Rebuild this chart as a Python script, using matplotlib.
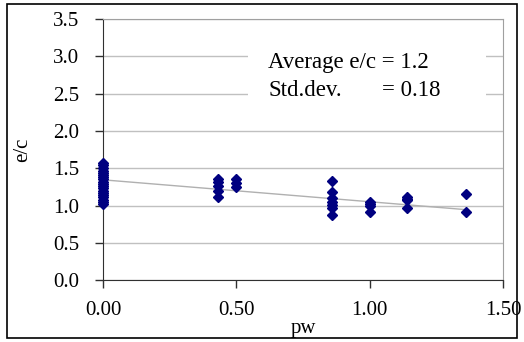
import numpy as np
import matplotlib
matplotlib.use("Agg")
import matplotlib.pyplot as plt
from matplotlib.patches import Rectangle

# pw groups and the e/c values read at each one
pw_groups = [0.00, 0.43, 0.50, 0.86, 1.00, 1.14, 1.36]
ec_groups = [
    [1.02, 1.05, 1.08, 1.11, 1.14, 1.17, 1.20, 1.23, 1.26, 1.29, 1.32,
     1.35, 1.38, 1.41, 1.44, 1.47, 1.50, 1.54, 1.57],
    [1.11, 1.20, 1.26, 1.31, 1.36],
    [1.25, 1.30, 1.36],
    [0.87, 0.97, 1.01, 1.05, 1.10, 1.18, 1.33],
    [0.92, 1.00, 1.02, 1.05],
    [0.97, 1.07, 1.09, 1.12],
    [0.92, 1.15],
]
# linear trend line
trend_intercept = 1.345
trend_slope = -0.294
avg_text = "Average e/c = 1.2"
std_label = "Std.dev."
std_value = "= 0.18"

pw = np.concatenate([[p] * len(v) for p, v in zip(pw_groups, ec_groups)])
ec = np.concatenate(ec_groups)

plt.rcParams["font.family"] = ["Liberation Serif", "DejaVu Serif"]

fig = plt.figure(figsize=(5.24, 3.42), dpi=100)
ax = fig.add_axes([0.1966, 0.181, 0.7634, 0.763])

ax.set_xlim(0, 1.5)
ax.set_ylim(0, 3.5)
ax.set_xticks([0, 0.5, 1.0, 1.5])
ax.set_xticklabels(["0.00", "0.50", "1.00", "1.50"])
ax.set_yticks(np.arange(0, 3.51, 0.5))
ax.set_yticklabels(["%.1f" % v for v in np.arange(0, 3.51, 0.5)])
ax.tick_params(labelsize=15, length=6, width=1, color="#303030")
ax.tick_params(axis="y", pad=11)
ax.tick_params(axis="x", pad=9)
ax.yaxis.grid(True, color="#c0c0c0", linewidth=1)
ax.set_axisbelow(True)

for s in ["top", "right"]:
    ax.spines[s].set_color("#a0a0a0")
for s in ["left", "bottom"]:
    ax.spines[s].set_color("#303030")

# trend line over the pw range
xs = np.array([pw.min(), pw.max()])
ax.plot(xs, trend_intercept + trend_slope * xs, color="#b0b0b0",
        linewidth=1, zorder=2)

ax.plot(pw, ec, linestyle="none", marker="D", markersize=5,
        color="#000080", zorder=3, clip_on=False)

ax.add_patch(Rectangle((0.545, 2.4), 0.89, 0.75, facecolor="white",
                       edgecolor="none", zorder=1.5))
ax.text(0.62, 2.84, avg_text, fontsize=16.5, va="baseline", zorder=4)
ax.text(0.62, 2.47, std_label, fontsize=16.5, va="baseline", zorder=4)
ax.text(1.046, 2.47, std_value, fontsize=16.5, va="baseline", zorder=4)

ax.set_xlabel("pw", fontsize=15, labelpad=-1)
ax.set_ylabel("e/c", fontsize=15, labelpad=15)

fig.patches.append(Rectangle((7 / 524, 4 / 342), 510 / 524, 334 / 342,
                             transform=fig.transFigure, fill=False,
                             edgecolor="black", linewidth=1.2))

fig.savefig("out.png", dpi=100)
